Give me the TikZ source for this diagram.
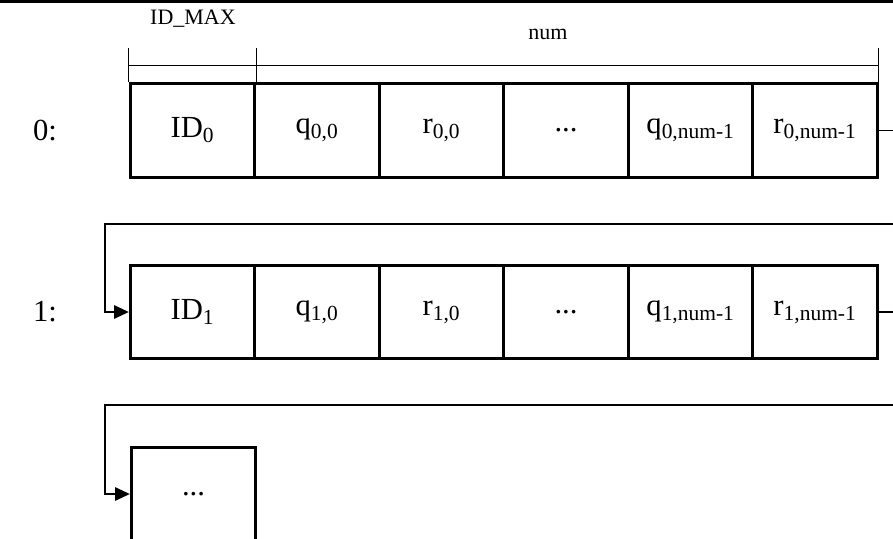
\documentclass[tikz,border=0pt]{standalone}
\usepackage{fontspec}
\setmainfont{Liberation Serif}
\usetikzlibrary{arrows.meta}
\begin{document}
\begin{tikzpicture}[x=0.75pt,y=-0.75pt,
  cell/.style={draw,line width=2.1pt,minimum width=93.4pt,minimum height=70pt,inner sep=0pt,
    font=\fontsize{23}{27}\selectfont},
  rowlab/.style={font=\fontsize{23}{27}\selectfont,inner sep=0pt},
  hdr/.style={font=\fontsize{16.5}{19}\selectfont,inner sep=0pt},
  conn/.style={line width=1.2pt},
  arr/.style={conn,-{Triangle[length=11pt,width=10pt]}},
  dim/.style={line width=0.8pt}]
\useasboundingbox (0,0) rectangle (893,539);
\draw[line width=1.6pt] (0,1.5) -- (893,1.5);
% row 0
\node[cell] (c00) at (192.5,130.5) {ID\textsubscript{0}};
\node[cell] (c01) at (317,130.5) {q\textsubscript{0,0}};
\node[cell] (c02) at (441.5,130.5) {r\textsubscript{0,0}};
\node[cell] (c03) at (566,130.5) {...};
\node[cell] (c04) at (690.5,130.5) {q\textsubscript{0,num-1}};
\node[cell] (c05) at (815,130.5) {r\textsubscript{0,num-1}};
\node[rowlab] (l0) at (45,130.5) {0:};
% row 1
\node[cell] (c10) at (192.5,312) {ID\textsubscript{1}};
\node[cell] (c11) at (317,312) {q\textsubscript{1,0}};
\node[cell] (c12) at (441.5,312) {r\textsubscript{1,0}};
\node[cell] (c13) at (566,312) {...};
\node[cell] (c14) at (690.5,312) {q\textsubscript{1,num-1}};
\node[cell] (c15) at (815,312) {r\textsubscript{1,num-1}};
\node[rowlab] (l1) at (45,312) {1:};
% row 2
\node[cell] (c20) at (193.5,494) {...};
% header dimensions
\node[hdr] (idmax) at (193,19) {ID\_MAX};
\node[hdr] (num) at (548,34) {num};
\draw[dim] (c00.north west) -- ++(0,-34);
\draw[dim] (c00.north east) -- ++(0,-34);
\draw[dim] (c05.north east) -- ++(0,-34);
\draw[dim] ([yshift=12.75pt]c00.north west) -- ([yshift=12.75pt]c05.north east);
% connectors
\coordinate (e0) at (893,130.5);
\coordinate (s1) at (893,224);
\coordinate (e1) at (893,312);
\coordinate (s2) at (893,405);
\draw[conn] (c05.east) -- (e0);
\draw[arr] (s1) -- (105,224) |- (c10.west);
\draw[conn] (c15.east) -- (e1);
\draw[arr] (s2) -- (105,405) |- (c20.west);
\end{tikzpicture}
\end{document}
